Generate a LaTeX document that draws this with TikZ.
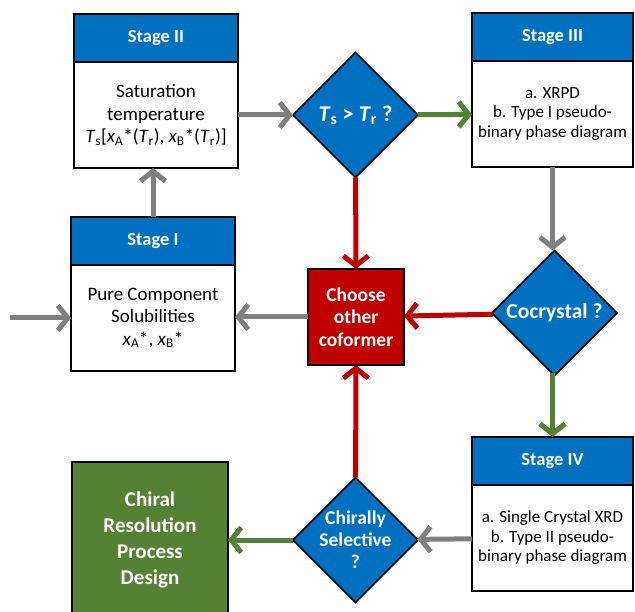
\documentclass[tikz,border=0pt]{standalone}
\usepackage{fontspec}
\setmainfont{Carlito}
\usetikzlibrary{arrows.meta, shapes.geometric, positioning}

\definecolor{stageblue}{HTML}{0070C0}
\definecolor{stopred}{HTML}{C00000}
\definecolor{gogreen}{HTML}{548235}
\definecolor{flowgrey}{HTML}{7F7F7F}

\tikzset{
  head/.style={draw, line width=1.5pt, fill=stageblue, text=white, outer sep=0pt, inner sep=0pt,
    minimum width=164pt, minimum height=48pt, font=\fontsize{18.5}{22}\selectfont\bfseries},
  body/.style={draw, line width=1.5pt, fill=white, align=center, outer sep=0pt, inner sep=0pt,
    minimum width=164pt, minimum height=106pt},
  dia/.style={diamond, draw, line width=1.5pt, fill=stageblue, outer sep=0pt, inner sep=0pt,
    minimum width=125pt, minimum height=125pt},
  diatext/.style={text=white, align=center, font=\fontsize{21.5}{24}\selectfont\bfseries},
  flow/.style={line width=5pt, -{Straight Barb[length=10pt,width=25pt]}},
}

\begin{document}
\begin{tikzpicture}[x=1pt, y=-1pt]
  \path[use as bounding box, clip] (0,0) rectangle (635,612);

  % Nodes
  \node[head] (s2h) at (156,38) {Stage II};
  \node[body, below=0pt of s2h, font=\fontsize{19}{22.5}\selectfont] (s2)
    {Saturation\\temperature\\\textit{T}\textsubscript{s}[\textit{x}\textsubscript{A}*(\textit{T}\textsubscript{r}), \textit{x}\textsubscript{B}*(\textit{T}\textsubscript{r})]};
  \node[head] (s1h) at (153,241) {Stage I};
  \node[body, below=0pt of s1h, font=\fontsize{19}{22.5}\selectfont] (s1)
    {Pure Component\\Solubilities\\\textit{x}\textsubscript{A}*, \textit{x}\textsubscript{B}*};
  \node[head, minimum width=161pt] (s3h) at (552.5,37) {Stage III};
  \node[body, minimum width=161pt, below=0pt of s3h, font=\fontsize{17}{19.5}\selectfont] (s3)
    {a. XRPD\\b. Type I pseudo-\\binary phase diagram};
  \node[head, minimum width=161pt] (s4h) at (552.5,461) {Stage IV};
  \node[body, minimum width=161pt, below=0pt of s4h, font=\fontsize{17}{19.5}\selectfont] (s4)
    {a. Single Crystal XRD\\b. Type II pseudo-\\binary phase diagram};

  \node[dia, label={[diatext, font=\fontsize{22.5}{26}\selectfont\bfseries]center:\textit{T}\textsubscript{s} > \textit{T}\textsubscript{r} ?}] (tst) at (355.5,115) {};
  \node[dia, label={[diatext]center:Cocrystal ?}] (cocr) at (554.5,313) {};
  \node[dia, label={[diatext, font=\fontsize{19.5}{22}\selectfont\bfseries]center:Chirally\\Selective\\?}] (chir) at (355.5,540) {};

  \node[draw, line width=1.5pt, fill=stopred, text=white, align=center, inner sep=0pt, outer sep=0pt,
    minimum size=96pt, font=\fontsize{19.5}{22.5}\selectfont\bfseries] (other) at (356,317) {Choose\\other\\coformer};
  \node[draw, line width=1.5pt, fill=gogreen, text=white, align=center, inner sep=0pt, outer sep=0pt,
    minimum size=156pt, font=\fontsize{21}{26}\selectfont\bfseries] (design) at (150,540) {Chiral\\Resolution\\Process\\Design};

  \coordinate (start) at (10,318);

  % Edges
  \draw[flow, flowgrey] (start) -- (s1);
  \draw[flow, flowgrey] (s1h.north) -- (s1h.north |- s2.south);
  \draw[flow, flowgrey] (s2) -- (tst);
  \draw[flow, gogreen] (tst) -- (s3);
  \draw[flow, stopred] (tst) -- (other);
  \draw[flow, flowgrey] (s3.south) -- (s3.south |- cocr.north);
  \draw[flow, stopred] (cocr) -- (other);
  \draw[flow, gogreen] (cocr.south) -- (cocr.south -| s4h.north) -- (s4h.north);
  \draw[flow, flowgrey] (other) -- (other -| s1.east);
  \draw[flow, flowgrey] (s4) -- (chir);
  \draw[flow, stopred] (chir) -- (other);
  \draw[flow, gogreen] (chir) -- (design);
\end{tikzpicture}
\end{document}
